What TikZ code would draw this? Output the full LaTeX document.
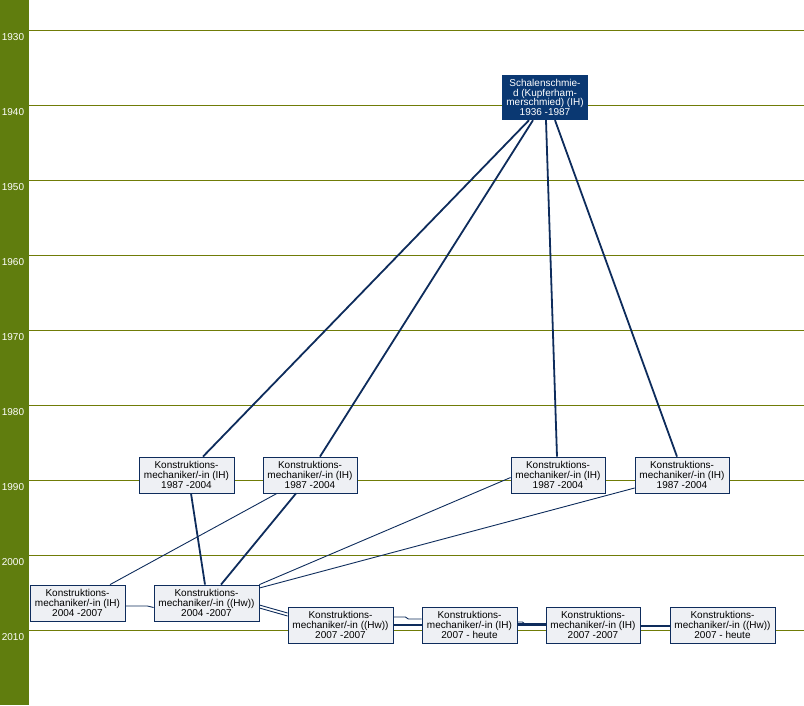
\documentclass[tikz,border=0pt]{standalone}
\usepackage{fontspec}
\setmainfont{Liberation Sans}
\definecolor{barGreen}{RGB}{96,125,14}
\definecolor{lineOlive}{RGB}{112,124,8}
\definecolor{jobBlue}{RGB}{10,56,114}
\definecolor{linkBlue}{RGB}{14,44,92}
\definecolor{jobGrey}{RGB}{238,240,244}

\begin{document}
\begin{tikzpicture}[
      x=1pt,y=-1pt,
      yearline/.style={draw=lineOlive,line width=0.9pt},
      yearlabel/.style={text=white,font=\fontsize{10}{10}\selectfont,inner sep=0pt},
      job/.style={draw=linkBlue,fill=jobGrey,line width=0.8pt,inner sep=0pt,
        minimum height=36,align=center,font=\fontsize{10}{9.6}\selectfont},
      jobtop/.style={fill=jobBlue,text=white,inner sep=0pt,minimum width=86,
        minimum height=45,align=center,font=\fontsize{10}{9.6}\selectfont},
      link/.style={draw=linkBlue,line width=1.8pt},
      heavylink/.style={draw=linkBlue,line width=2.4pt},
      thinlink/.style={draw=linkBlue,line width=0.9pt}
      ]
      \useasboundingbox (0,0) rectangle (804,705);
      \fill[barGreen] (0,0) rectangle (29,705);
      \foreach \k in {0,...,8} {
        \pgfmathtruncatemacro\yr{1930+10*\k}
        \draw[yearline] (29,{30+75*\k}) -- (804,{30+75*\k});
        \node[yearlabel] (y\yr) at (13,{37+75*\k}) {\yr};
      }
      % jobs
      \node[jobtop] (top) at (545,97.5) {Schalenschmie-\\d (Kupferham-\\merschmied) (IH)\\1936 -1987};
      \node[job,minimum width=95] (ihA) at (186.5,475) {Konstruktions-\\mechaniker/-in (IH)\\1987 -2004};
      \node[job,minimum width=94] (ihB) at (310,475) {Konstruktions-\\mechaniker/-in (IH)\\1987 -2004};
      \node[job,minimum width=94] (ihC) at (558,475) {Konstruktions-\\mechaniker/-in (IH)\\1987 -2004};
      \node[job,minimum width=94] (ihD) at (682,475) {Konstruktions-\\mechaniker/-in (IH)\\1987 -2004};
      \node[job,minimum width=95] (ihE) at (77.5,603) {Konstruktions-\\mechaniker/-in (IH)\\2004 -2007};
      \node[job,minimum width=105] (hwF) at (206.5,603) {Konstruktions-\\mechaniker/-in ((Hw))\\2004 -2007};
      \node[job,minimum width=105] (hwG) at (340.5,625) {Konstruktions-\\mechaniker/-in ((Hw))\\2007 -2007};
      \node[job,minimum width=95] (ihH) at (469.5,625) {Konstruktions-\\mechaniker/-in (IH)\\2007 - heute};
      \node[job,minimum width=94] (ihI) at (593,625) {Konstruktions-\\mechaniker/-in (IH)\\2007 -2007};
      \node[job,minimum width=105] (hwJ) at (722.5,625) {Konstruktions-\\mechaniker/-in ((Hw))\\2007 - heute};
      % links
      \draw[link] ([xshift=-16]top.south) -- ([xshift=16.5]ihA.north);
      \draw[link] ([xshift=-12]top.south) -- ([xshift=10]ihB.north);
      \draw[link] ([xshift=1]top.south) -- ([xshift=-1]ihC.north);
      \draw[link] ([xshift=10]top.south) -- ([xshift=-5]ihD.north);
      \draw[link] ([xshift=4.5]ihA.south) -- ([xshift=-1.5]hwF.north);
      \draw[link] ([xshift=-14]ihB.south) -- ([xshift=14.5]hwF.north);
      \draw[thinlink] ([xshift=-33]ihB.south) -- ([xshift=32.5]ihE.north);
      \draw[thinlink] ([yshift=-2.5]ihC.west) -- (hwF.north east);
      \draw[thinlink] ([yshift=-13]ihD.west) -- ([yshift=15]hwF.east);
      \draw[thinlink] ([yshift=-3]ihE.east) -- ++(22,0) -- ([yshift=-4.5]hwF.west);
      \draw[thinlink] ([yshift=-2]hwF.east) -- ([yshift=12]hwG.west);
      \draw[thinlink] ([yshift=-5]hwF.east) -- ([yshift=9]hwG.west);
      \draw[thinlink] ([yshift=8]hwG.east) -- ++(12,0) -- ++(3,2) -- ([yshift=6]ihH.west);
      \draw[heavylink] (hwG.east) -- (ihH.west);
      \draw[thinlink] ([yshift=3]ihH.east) -- ++(5,0) -- ++(2,1.5) -- ([yshift=1.5]ihI.west);
      \draw[heavylink] ([yshift=0.5]ihH.east) -- ([yshift=0.5]ihI.west);
      \draw[heavylink] ([yshift=-1]ihI.east) -- ([yshift=-1]hwJ.west);
    \end{tikzpicture}
\end{document}
